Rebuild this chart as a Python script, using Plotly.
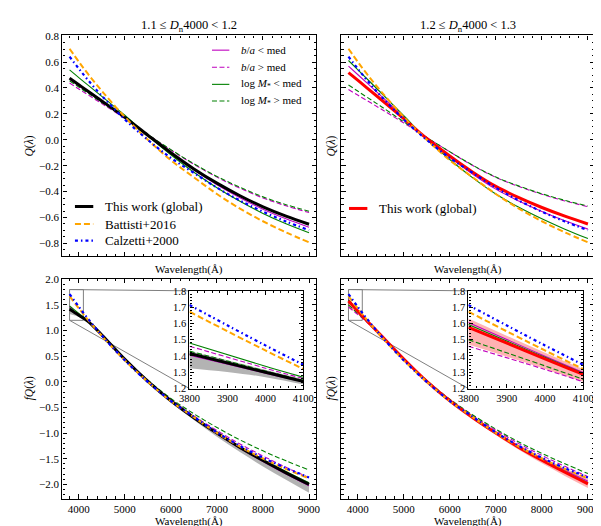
import plotly.graph_objects as go

# ---------------- data ----------------
wl = [3800, 4000, 4200, 4500, 5000, 5500, 6000, 6500, 7000, 7500, 8000, 8500, 9000]

# reference curves (same in both columns)
calz_q = [0.642, 0.549, 0.461, 0.339, 0.157, -0.001, -0.140, -0.256, -0.370, -0.469, -0.555, -0.631, -0.698]
batt_q = [0.703, 0.603, 0.508, 0.377, 0.176, 0.000, -0.158, -0.290, -0.419, -0.531, -0.629, -0.715, -0.792]
calz_fq = [1.713, 1.465, 1.231, 0.905, 0.420, -0.002, -0.373, -0.683, -0.987, -1.251, -1.481, -1.684, -1.865]
batt_fq = [1.672, 1.434, 1.210, 0.897, 0.420, 0.000, -0.377, -0.690, -0.997, -1.264, -1.496, -1.701, -1.884]

# top-left: Q(lambda), 1.1 <= Dn4000 < 1.2
tl_global = [0.476, 0.425, 0.375, 0.300, 0.173, 0.035, -0.100, -0.225, -0.335, -0.432, -0.518, -0.590, -0.652]
tl_ba_lo = [0.466, 0.416, 0.368, 0.294, 0.171, 0.034, -0.106, -0.234, -0.347, -0.447, -0.536, -0.610, -0.675]
tl_ba_hi = [0.438, 0.392, 0.347, 0.279, 0.164, 0.040, -0.079, -0.190, -0.288, -0.374, -0.449, -0.510, -0.562]
tl_m_lo = [0.539, 0.480, 0.422, 0.335, 0.189, 0.031, -0.116, -0.251, -0.370, -0.475, -0.569, -0.649, -0.718]
tl_m_hi = [0.455, 0.407, 0.359, 0.288, 0.168, 0.041, -0.076, -0.186, -0.283, -0.367, -0.441, -0.501, -0.552]

# top-right: Q(lambda), 1.2 <= Dn4000 < 1.3
tr_global = [0.519, 0.460, 0.401, 0.313, 0.163, 0.010, -0.125, -0.250, -0.360, -0.447, -0.523, -0.590, -0.650]
tr_ba_lo = [0.569, 0.504, 0.439, 0.341, 0.176, 0.008, -0.135, -0.266, -0.381, -0.473, -0.554, -0.626, -0.690]
tr_ba_hi = [0.388, 0.345, 0.303, 0.239, 0.130, 0.018, -0.093, -0.199, -0.290, -0.361, -0.421, -0.472, -0.517]
tr_m_lo = [0.612, 0.541, 0.471, 0.365, 0.186, 0.004, -0.152, -0.294, -0.419, -0.521, -0.610, -0.690, -0.763]
tr_m_hi = [0.423, 0.376, 0.329, 0.259, 0.139, 0.018, -0.092, -0.197, -0.288, -0.357, -0.417, -0.468, -0.512]

# bottom-left: fQ(lambda)
bl_global = [1.415, 1.300, 1.180, 0.915, 0.440, 0.010, -0.370, -0.700, -1.000, -1.280, -1.535, -1.775, -2.000]
bl_ba_lo = [1.405, 1.294, 1.178, 0.915, 0.439, 0.008, -0.375, -0.708, -1.012, -1.296, -1.555, -1.800, -2.030]
bl_ba_hi = [1.460, 1.325, 1.191, 0.916, 0.442, 0.020, -0.348, -0.665, -0.949, -1.212, -1.448, -1.667, -1.870]
bl_m_lo = [1.480, 1.337, 1.196, 0.916, 0.441, 0.012, -0.365, -0.692, -0.988, -1.264, -1.515, -1.750, -1.970]
bl_m_hi = [1.430, 1.308, 1.184, 0.915, 0.445, 0.033, -0.324, -0.624, -0.891, -1.133, -1.347, -1.542, -1.720]
bl_band_lo = [1.325, 1.270, 1.165, 0.905, 0.430, -0.010, -0.400, -0.745, -1.070, -1.370, -1.650, -1.910, -2.165]
bl_band_hi = [1.430, 1.315, 1.190, 0.920, 0.445, 0.015, -0.360, -0.685, -0.980, -1.255, -1.505, -1.740, -1.960]

# bottom-right: fQ(lambda)
br_global = [1.576, 1.382, 1.192, 0.912, 0.445, 0.010, -0.370, -0.700, -1.000, -1.280, -1.530, -1.765, -1.990]
br_ba_lo = [1.606, 1.399, 1.200, 0.913, 0.446, 0.014, -0.362, -0.687, -0.981, -1.254, -1.496, -1.724, -1.940]
br_ba_hi = [1.460, 1.317, 1.163, 0.910, 0.448, 0.021, -0.347, -0.662, -0.945, -1.206, -1.436, -1.649, -1.850]
br_m_lo = [1.594, 1.392, 1.197, 0.912, 0.445, 0.012, -0.367, -0.695, -0.992, -1.270, -1.517, -1.748, -1.970]
br_m_hi = [1.500, 1.339, 1.173, 0.911, 0.449, 0.026, -0.337, -0.646, -0.922, -1.175, -1.396, -1.599, -1.790]
br_band_lo = [1.470, 1.320, 1.160, 0.900, 0.440, 0.000, -0.385, -0.725, -1.035, -1.325, -1.590, -1.835, -2.070]
br_band_hi = [1.630, 1.420, 1.220, 0.920, 0.450, 0.020, -0.355, -0.675, -0.965, -1.230, -1.465, -1.685, -1.890]

titles = ["1.1 ≤ <i>D</i><sub>n</sub>4000 &lt; 1.2", "1.2 ≤ <i>D</i><sub>n</sub>4000 &lt; 1.3"]
sub_names = ["<i>b</i>/<i>a</i> &lt; med", "<i>b</i>/<i>a</i> &gt; med",
             "log <i>M</i><sub>*</sub> &lt; med", "log <i>M</i><sub>*</sub> &gt; med"]
ref_names = ["This work (global)", "Battisti+2016", "Calzetti+2000"]

# ---------------- styling / layout ----------------
FONT = "Liberation Serif"
W, H = 601, 526
XL, XR = (46, 309), (335, 598)
YT, YB = (22, 248), (271, 496)
INS_L = (177.7, 295.7)
INS_R = (466.7, 585.7)
INS_Y = (283.3, 383.3)
XRANGE = [3644, 9156]
QRANGE = [-0.90, 0.805]
FQRANGE = [-2.28, 2.01]

MAG, GRN, ORA, BLU = "#bf00bf", "#008000", "#ffa500", "#0000ff"
DASH_SUB = "5px,2.5px"
DASH_BATT = "6px,3px"
DASH_CALZ = "3px,3px,1.5px,3px"

SUB_STYLES = [(MAG, 1.1, "solid"), (MAG, 1.1, DASH_SUB), (GRN, 1.1, "solid"), (GRN, 1.1, DASH_SUB)]


def dx(a):
    return [a[0] / W, a[1] / W]


def dy(a):
    return [1 - a[1] / H, 1 - a[0] / H]


fig = go.Figure()


def line(x, y, ax, color, width, dash="solid", name=""):
    fig.add_trace(go.Scatter(
        x=x, y=y, mode="lines", xaxis="x" + ax, yaxis="y" + ax,
        line=dict(color=color, width=width, dash=dash, shape="spline", smoothing=1.0),
        name=name, showlegend=False, hoverinfo="skip"))


def band(lo, hi, ax, fillcolor):
    fig.add_trace(go.Scatter(x=wl, y=lo, mode="lines", xaxis="x" + ax, yaxis="y" + ax,
                             line=dict(width=0, shape="spline"), showlegend=False, hoverinfo="skip"))
    fig.add_trace(go.Scatter(x=wl, y=hi, mode="lines", xaxis="x" + ax, yaxis="y" + ax,
                             line=dict(width=0, shape="spline"), fill="tonexty",
                             fillcolor=fillcolor, showlegend=False, hoverinfo="skip"))


def panel(ax, subs, glob, gcolor, batt, calz, bandlo=None, bandhi=None, bandcolor=None):
    if bandlo is not None:
        band(bandlo, bandhi, ax, bandcolor)
    for i, (ys, st) in enumerate(zip(subs, SUB_STYLES)):
        line(wl, ys, ax, st[0], st[1], st[2], name=sub_names[i])
    line(wl, glob, ax, gcolor, 3.0, "solid", name=ref_names[0])
    line(wl, batt, ax, ORA, 2.0, DASH_BATT, name=ref_names[1])
    line(wl, calz, ax, BLU, 2.2, DASH_CALZ, name=ref_names[2])


panel("", [tl_ba_lo, tl_ba_hi, tl_m_lo, tl_m_hi], tl_global, "black", batt_q, calz_q)
panel("2", [tr_ba_lo, tr_ba_hi, tr_m_lo, tr_m_hi], tr_global, "red", batt_q, calz_q)
for ax in ["3", "5"]:
    panel(ax, [bl_ba_lo, bl_ba_hi, bl_m_lo, bl_m_hi], bl_global, "black", batt_fq, calz_fq,
          bl_band_lo, bl_band_hi, "rgba(128,128,128,0.6)")
for ax in ["4", "6"]:
    panel(ax, [br_ba_lo, br_ba_hi, br_m_lo, br_m_hi], br_global, "red", batt_fq, calz_fq,
          br_band_lo, br_band_hi, "rgba(255,0,0,0.3)")

tickfont = dict(family=FONT, size=11, color="black")


def axis(domain, anchor, rng, dtick, tick0, mdtick, labels=True, fmt=None, font=tickfont):
    d = dict(domain=domain, anchor=anchor, range=rng, autorange=False, dtick=dtick, tick0=tick0,
             showline=True, linecolor="black", linewidth=1.3, mirror="allticks",
             ticks="inside", ticklen=4.5, tickwidth=1, tickcolor="black",
             showgrid=False, zeroline=False, showticklabels=labels, tickfont=font,
             minor=dict(ticks="inside", ticklen=2.5, tickwidth=0.8, tickcolor="black",
                        dtick=mdtick, tick0=tick0, showgrid=False))
    if fmt:
        d["tickformat"] = fmt
    return d


lay = dict(width=W, height=H, margin=dict(l=0, r=0, t=0, b=0),
           paper_bgcolor="white", plot_bgcolor="white", showlegend=False,
           font=dict(family=FONT, size=11, color="black"))

lay["xaxis"] = axis(dx(XL), "y", XRANGE, 1000, 4000, 200, labels=False)
lay["yaxis"] = axis(dy(YT), "x", QRANGE, 0.2, 0, 0.05, fmt=".1f")
lay["xaxis2"] = axis(dx(XR), "y2", XRANGE, 1000, 4000, 200, labels=False)
lay["yaxis2"] = axis(dy(YT), "x2", QRANGE, 0.2, 0, 0.05, labels=False)
lay["xaxis3"] = axis(dx(XL), "y3", XRANGE, 1000, 4000, 200)
lay["yaxis3"] = axis(dy(YB), "x3", FQRANGE, 0.5, 0, 0.1, fmt=".1f")
lay["xaxis4"] = axis(dx(XR), "y4", XRANGE, 1000, 4000, 200)
lay["yaxis4"] = axis(dy(YB), "x4", FQRANGE, 0.5, 0, 0.1, labels=False)
insfont = dict(family=FONT, size=10.5, color="black")
lay["xaxis5"] = axis(dx(INS_L), "y5", [3800, 4100], 100, 3800, 20, font=insfont)
lay["yaxis5"] = axis(dy(INS_Y), "x5", [1.2, 1.8], 0.1, 1.2, 0.02, fmt=".1f", font=insfont)
lay["xaxis6"] = axis(dx(INS_R), "y6", [3800, 4100], 100, 3800, 20, font=insfont)
lay["yaxis6"] = axis(dy(INS_Y), "x6", [1.2, 1.8], 0.1, 1.2, 0.02, fmt=".1f", font=insfont)

ann = []
shapes = []
for (xa, t) in zip([XL, XR], titles):
    ann.append(dict(text=t, x=(xa[0] + xa[1]) / 2 / W, y=1 - 12 / H, xref="paper", yref="paper",
                    showarrow=False, font=dict(family=FONT, size=12.5), xanchor="center", yanchor="middle"))
    for yy in [261, 519]:
        ann.append(dict(text="Wavelength(Å)", x=(xa[0] + xa[1]) / 2 / W, y=1 - yy / H,
                        xref="paper", yref="paper", showarrow=False,
                        font=dict(family=FONT, size=11), xanchor="center", yanchor="middle"))
for xpx in [12, 325]:
    ann.append(dict(text="<i>Q</i>(<i>λ</i>)", x=xpx / W, y=1 - (YT[0] + YT[1]) / 2 / H,
                    xref="paper", yref="paper", showarrow=False, textangle=-90,
                    font=dict(family=FONT, size=11.5), xanchor="center", yanchor="middle"))
    ann.append(dict(text="<i>fQ</i>(<i>λ</i>)", x=xpx / W, y=1 - (YB[0] + YB[1]) / 2 / H,
                    xref="paper", yref="paper", showarrow=False, textangle=-90,
                    font=dict(family=FONT, size=11.5), xanchor="center", yanchor="middle"))


# legends (matplotlib-style: short line sample + label)
def legend_entry(x_line, x_text, y, color, width, dash, text, size):
    shapes.append(dict(type="line", xref="paper", yref="paper",
                       x0=x_line[0] / W, x1=x_line[1] / W, y0=1 - y / H, y1=1 - y / H,
                       line=dict(color=color, width=width, dash=dash)))
    ann.append(dict(text=text, x=x_text / W, y=1 - y / H, xref="paper", yref="paper",
                    showarrow=False, xanchor="left", yanchor="middle",
                    font=dict(family=FONT, size=size, color="black")))


for i, yy in enumerate([37, 54.5, 72, 89]):
    c, w, d = SUB_STYLES[i]
    legend_entry((201, 219), 229, yy, c, w, d, sub_names[i], 11)
ref_styles = [("black", 3.0, "solid"), (ORA, 2.0, DASH_BATT), (BLU, 2.2, DASH_CALZ)]
for i, yy in enumerate([197, 215, 232]):
    c, w, d = ref_styles[i]
    legend_entry((59, 78), 88, yy, c, w, d, ref_names[i], 13)
legend_entry((343, 362), 372, 199, "red", 3.0, "solid", ref_names[0], 13)

# zoom rectangles and connector lines (inset markers)
for ax, main_x, ins in [("3", XL, INS_L), ("4", XR, INS_R)]:
    def to_x(p):
        return XRANGE[0] + (p - main_x[0]) / (main_x[1] - main_x[0]) * (XRANGE[1] - XRANGE[0])

    def to_y(p):
        return FQRANGE[1] - (p - YB[0]) / (YB[1] - YB[0]) * (FQRANGE[1] - FQRANGE[0])

    gl = dict(color="#808080", width=1)
    shapes.append(dict(type="rect", xref="x" + ax, yref="y" + ax, x0=3800, x1=4100, y0=1.2, y1=1.8,
                       line=gl, layer="below"))
    shapes.append(dict(type="line", xref="x" + ax, yref="y" + ax, x0=3800, y0=1.8,
                       x1=to_x(ins[0]), y1=to_y(INS_Y[0]), line=gl, layer="below"))
    shapes.append(dict(type="line", xref="x" + ax, yref="y" + ax, x0=3800, y0=1.2,
                       x1=to_x(ins[0]), y1=to_y(INS_Y[1]), line=gl, layer="below"))

lay["annotations"] = ann
lay["shapes"] = shapes

fig.update_layout(**lay)
fig.write_html("out.html")
